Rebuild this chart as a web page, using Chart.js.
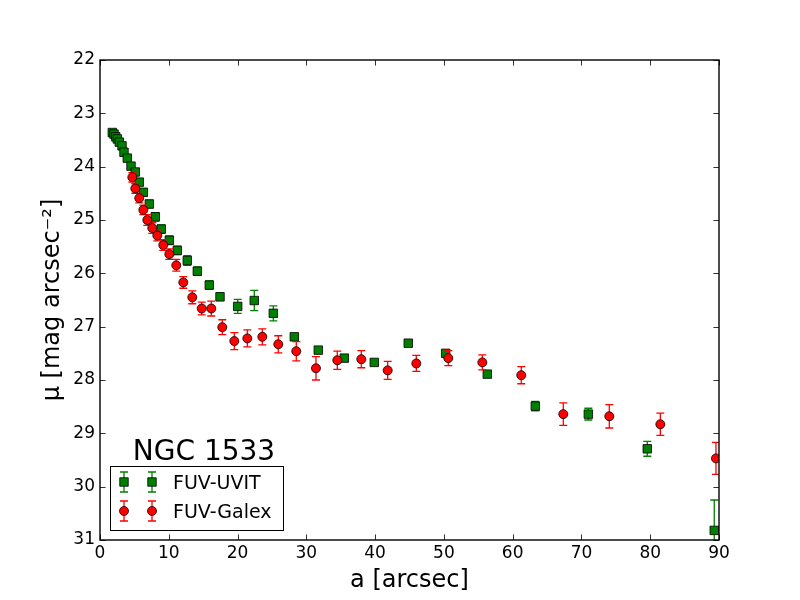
<!DOCTYPE html>
<html><head><meta charset="utf-8">
<script src="https://cdn.jsdelivr.net/npm/chart.js@4.4.0/dist/chart.umd.min.js"></script>
<style>html,body{margin:0;padding:0;background:#fff;} canvas{display:block;}</style>
</head><body>
<canvas id="c" width="800" height="600"></canvas>
<script>
// ---- data ----
const uvitX = [1.79, 2.04, 2.28, 2.52, 2.81, 3.20, 3.49, 3.97, 4.51, 5.13, 5.71, 6.30, 7.17, 8.04, 8.91, 10.08, 11.24, 12.69, 14.15, 15.89, 17.45, 20.02, 22.43, 25.20, 28.25, 31.74, 35.52, 39.88, 44.82, 50.26, 56.31, 63.29, 71.00, 79.57, 89.31];
const uvitY = [23.36, 23.39, 23.44, 23.48, 23.54, 23.61, 23.73, 23.84, 23.99, 24.10, 24.29, 24.48, 24.70, 24.94, 25.17, 25.38, 25.57, 25.76, 25.96, 26.22, 26.44, 26.62, 26.51, 26.75, 27.19, 27.44, 27.59, 27.67, 27.31, 27.50, 27.89, 28.49, 28.64, 29.29, 30.82];
const uvitErr = [0.04, 0.04, 0.04, 0.04, 0.05, 0.05, 0.05, 0.05, 0.06, 0.06, 0.06, 0.07, 0.07, 0.08, 0.08, 0.08, 0.08, 0.09, 0.08, 0.08, 0.07, 0.13, 0.19, 0.14, 0.06, 0.05, 0.06, 0.05, 0.05, 0.05, 0.05, 0.09, 0.11, 0.14, 0.57];

const galexX = [4.70, 5.13, 5.71, 6.30, 6.88, 7.60, 8.33, 9.20, 10.08, 11.09, 12.11, 13.42, 14.79, 16.18, 17.78, 19.53, 21.42, 23.60, 25.92, 28.54, 31.40, 34.50, 37.99, 41.83, 45.99, 50.64, 55.59, 61.25, 67.36, 74.05, 81.47, 89.56];
const galexY = [24.20, 24.41, 24.59, 24.81, 25.00, 25.15, 25.29, 25.47, 25.64, 25.85, 26.17, 26.45, 26.66, 26.66, 27.01, 27.27, 27.22, 27.19, 27.33, 27.46, 27.78, 27.63, 27.61, 27.82, 27.69, 27.59, 27.67, 27.91, 28.64, 28.68, 28.83, 29.47];
const galexErr = [0.09, 0.09, 0.09, 0.09, 0.10, 0.10, 0.10, 0.10, 0.10, 0.11, 0.11, 0.12, 0.12, 0.14, 0.14, 0.16, 0.16, 0.15, 0.16, 0.18, 0.22, 0.17, 0.16, 0.17, 0.15, 0.14, 0.14, 0.16, 0.21, 0.22, 0.21, 0.30];

const xTicks = [0, 10, 20, 30, 40, 50, 60, 70, 80, 90];
const yTicks = [22, 23, 24, 25, 26, 27, 28, 29, 30, 31];
const seriesNames = ['FUV-UVIT', 'FUV-Galex'];
const galaxyName = 'NGC 1533';
const xTitle = 'a [arcsec]';
const yTitle = 'μ [mag arcsec⁻²]';

const FONT = "'DejaVu Sans', sans-serif";
Chart.defaults.color = '#000';

function pts(xs, ys) { return xs.map((x, i) => ({x: x, y: ys[i]})); }

const errorBars = {
  id: 'errorBars',
  beforeDatasetDraw(chart, args) {
    const ds = chart.data.datasets[args.index];
    const xs = args.meta.xScale, ys = args.meta.yScale;
    const ctx = chart.ctx, a = chart.chartArea;
    ctx.save();
    ctx.beginPath(); ctx.rect(a.left, a.top, a.right - a.left, a.bottom - a.top); ctx.clip();
    ctx.strokeStyle = ds.errColor; ctx.lineWidth = 1.3;
    ds.data.forEach((p, i) => {
      const e = ds.errors[i];
      const px = xs.getPixelForValue(p.x);
      const y1 = ys.getPixelForValue(p.y - e), y2 = ys.getPixelForValue(p.y + e);
      ctx.beginPath();
      ctx.moveTo(px, y1); ctx.lineTo(px, y2);
      ctx.moveTo(px - 4, y1); ctx.lineTo(px + 4, y1);
      ctx.moveTo(px - 4, y2); ctx.lineTo(px + 4, y2);
      ctx.stroke();
    });
    ctx.restore();
  }
};

function drawMarker(ctx, style, x, y, fill) {
  ctx.save();
  ctx.fillStyle = fill; ctx.strokeStyle = '#000'; ctx.lineWidth = 0.8;
  ctx.beginPath();
  if (style === 'rect') { const h = 6 * Math.SQRT1_2; ctx.rect(x - h, y - h, 2 * h, 2 * h); }
  else { ctx.arc(x, y, 4.5, 0, Math.PI * 2); }
  ctx.fill(); ctx.stroke();
  ctx.restore();
}

const frameAndExtras = {
  id: 'frameAndExtras',
  afterDatasetsDraw(chart) {
    const ctx = chart.ctx, a = chart.chartArea;
    const sx = chart.scales.x, sy = chart.scales.y;
    ctx.save();
    ctx.strokeStyle = '#000';
    ctx.lineWidth = 0.8;
    const L = 5.6;
    sx.ticks.forEach(t => {
      const p = Math.round(sx.getPixelForValue(t.value)) + 0.5;
      ctx.beginPath();
      ctx.moveTo(p, a.bottom); ctx.lineTo(p, a.bottom - L);
      ctx.moveTo(p, a.top); ctx.lineTo(p, a.top + L);
      ctx.stroke();
    });
    sy.ticks.forEach(t => {
      const p = Math.round(sy.getPixelForValue(t.value)) + 0.5;
      ctx.beginPath();
      ctx.moveTo(a.left, p); ctx.lineTo(a.left + L, p);
      ctx.moveTo(a.right, p); ctx.lineTo(a.right - L, p);
      ctx.stroke();
    });
    ctx.lineWidth = 1.4;
    ctx.strokeRect(a.left, a.top, a.right - a.left, a.bottom - a.top);

    // galaxy name
    ctx.fillStyle = '#000';
    ctx.font = "28px " + FONT;
    ctx.textAlign = 'center'; ctx.textBaseline = 'alphabetic';
    ctx.fillText(galaxyName, 204, 460);

    // legend
    const bx = 110, by = 466, bw = 173, bh = 64;
    ctx.fillStyle = '#fff';
    ctx.fillRect(bx, by, bw, bh);
    ctx.lineWidth = 1; ctx.strokeStyle = '#000';
    ctx.strokeRect(bx + 0.5, by + 0.5, bw, bh);
    const dsets = chart.data.datasets;
    const rows = [482, 511];
    [0, 1].forEach(k => {
      const ds = dsets.find(d => d.label === seriesNames[k]);
      const y = rows[k];
      [124, 152].forEach(x => {
        ctx.save();
        ctx.strokeStyle = ds.errColor; ctx.lineWidth = 1.3;
        ctx.beginPath();
        ctx.moveTo(x, y - 10); ctx.lineTo(x, y + 10);
        ctx.moveTo(x - 4, y - 10); ctx.lineTo(x + 4, y - 10);
        ctx.moveTo(x - 4, y + 10); ctx.lineTo(x + 4, y + 10);
        ctx.stroke();
        ctx.restore();
        drawMarker(ctx, ds.pointStyle, x, y, ds.backgroundColor);
      });
      ctx.fillStyle = '#000';
      ctx.font = "19px " + FONT;
      ctx.textAlign = 'left'; ctx.textBaseline = 'alphabetic';
      ctx.fillText(seriesNames[k], 173, y + 7);
    });
    ctx.restore();
  }
};

new Chart(document.getElementById('c'), {
  type: 'scatter',
  data: {
    datasets: [
      { label: seriesNames[0], data: pts(uvitX, uvitY), errors: uvitErr, errColor: '#008000',
        pointStyle: 'rect', pointRadius: 6, pointHoverRadius: 6, backgroundColor: '#008000',
        borderColor: '#000', borderWidth: 0.8, showLine: false, order: 2 },
      { label: seriesNames[1], data: pts(galexX, galexY), errors: galexErr, errColor: '#ff0000',
        pointStyle: 'circle', pointRadius: 4.5, pointHoverRadius: 4.5, backgroundColor: '#ff0000',
        borderColor: '#000', borderWidth: 0.8, showLine: false, order: 1 }
    ]
  },
  options: {
    responsive: false, animation: false, devicePixelRatio: 1,
    layout: { padding: { left: 0, right: 81, top: 60, bottom: 0 } },
    plugins: { legend: { display: false }, tooltip: { enabled: false } },
    scales: {
      x: {
        type: 'linear', position: 'bottom', min: 0, max: 90,
        afterBuildTicks: s => { s.ticks = xTicks.map(v => ({ value: v })); },
        afterFit: s => { s.height = 60; },
        ticks: { padding: 3, font: { family: FONT, size: 17 }, color: '#000', maxRotation: 0, autoSkip: false },
        grid: { display: false, drawTicks: false }, border: { display: false },
        title: { display: true, text: xTitle, font: { family: FONT, size: 24 }, color: '#000', padding: { top: 0, bottom: 5 } }
      },
      y: {
        type: 'linear', position: 'left', min: 22, max: 31, reverse: true,
        afterBuildTicks: s => { s.ticks = yTicks.map(v => ({ value: v })); },
        afterFit: s => { s.width = 100; },
        ticks: { padding: 5, font: { family: FONT, size: 17 }, color: '#000', autoSkip: false },
        grid: { display: false, drawTicks: false }, border: { display: false },
        title: { display: true, text: yTitle, font: { family: FONT, size: 24 }, color: '#000', padding: { top: 38, bottom: 0 } }
      }
    }
  },
  plugins: [errorBars, frameAndExtras]
});
</script>
</body></html>
